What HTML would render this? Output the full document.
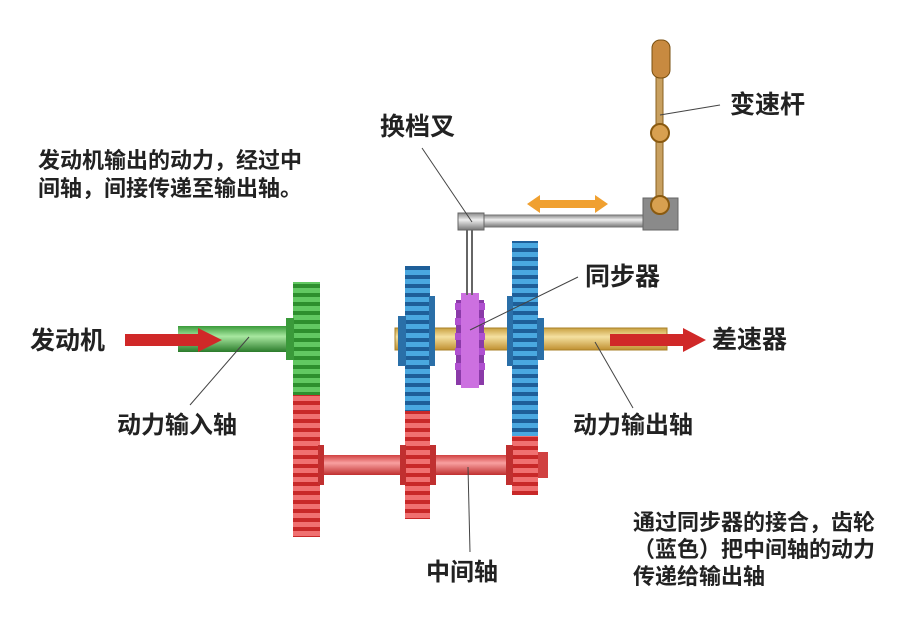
<!DOCTYPE html>
<html><head><meta charset="utf-8"><style>
html,body{margin:0;padding:0;background:#fff;}
svg text{font-family:"Liberation Sans","Noto Sans CJK SC",sans-serif;fill:#222;}
</style></head><body>
<svg width="900" height="621" viewBox="0 0 900 621" xmlns="http://www.w3.org/2000/svg">
<defs>
<pattern id="pg" width="10" height="9" patternUnits="userSpaceOnUse"><rect width="10" height="9" fill="#2e8f2e"/><rect y="0" width="10" height="5" fill="#62c862"/></pattern>
<pattern id="pb" width="10" height="9" patternUnits="userSpaceOnUse"><rect width="10" height="9" fill="#1e5f99"/><rect y="0" width="10" height="5" fill="#4aa8e0"/></pattern>
<pattern id="pr" width="10" height="9" patternUnits="userSpaceOnUse"><rect width="10" height="9" fill="#c82828"/><rect y="0" width="10" height="5" fill="#f07070"/></pattern>
<linearGradient id="gy" x1="0" y1="0" x2="0" y2="1"><stop offset="0" stop-color="#c9a040"/><stop offset="0.4" stop-color="#f4e0a0"/><stop offset="1" stop-color="#c09030"/></linearGradient>
<linearGradient id="gg" x1="0" y1="0" x2="0" y2="1"><stop offset="0" stop-color="#3a9a3a"/><stop offset="0.4" stop-color="#a8e8a0"/><stop offset="1" stop-color="#2a7a2a"/></linearGradient>
<linearGradient id="gr" x1="0" y1="0" x2="0" y2="1"><stop offset="0" stop-color="#d04040"/><stop offset="0.4" stop-color="#f8a0a0"/><stop offset="1" stop-color="#c03030"/></linearGradient>
<linearGradient id="gs" x1="0" y1="0" x2="0" y2="1"><stop offset="0" stop-color="#888"/><stop offset="0.4" stop-color="#eee"/><stop offset="1" stop-color="#777"/></linearGradient>
</defs>
<text x="38" y="168" font-size="22" font-weight="bold">发动机输出的动力，经过中</text>
<text x="38" y="196" font-size="22" font-weight="bold">间轴，间接传递至输出轴。</text>
<text x="30" y="349" font-size="25" font-weight="bold">发动机</text>
<text x="117" y="433" font-size="24" font-weight="bold">动力输入轴</text>
<text x="426" y="580" font-size="24" font-weight="bold">中间轴</text>
<text x="573" y="433" font-size="24" font-weight="bold">动力输出轴</text>
<text x="712" y="348" font-size="25" font-weight="bold">差速器</text>
<text x="585" y="285" font-size="25" font-weight="bold">同步器</text>
<text x="380" y="135" font-size="25" font-weight="bold">换档叉</text>
<text x="730" y="113" font-size="25" font-weight="bold">变速杆</text>
<text x="633" y="530" font-size="22" font-weight="bold">通过同步器的接合，齿轮</text>
<text x="633" y="557" font-size="22" font-weight="bold">（蓝色）把中间轴的动力</text>
<text x="633" y="584" font-size="22" font-weight="bold">传递给输出轴</text>
<rect x="178" y="326" width="116" height="26" fill="url(#gg)"/>
<rect x="395" y="328" width="272" height="22" fill="url(#gy)" stroke="#a88028" stroke-width="1"/>
<rect x="318" y="455" width="230" height="20" fill="url(#gr)"/>
<rect x="293" y="282" width="27" height="113" fill="url(#pg)"/>
<rect x="293" y="395" width="27" height="142" fill="url(#pr)"/>
<rect x="286" y="318" width="8" height="42" fill="#3a9a3a"/>
<rect x="405" y="266" width="25" height="145" fill="url(#pb)"/>
<rect x="405" y="411" width="25" height="108" fill="url(#pr)"/>
<rect x="398" y="316" width="8" height="50" fill="#2a6fa8"/>
<rect x="429" y="296" width="6" height="70" fill="#2a6fa8"/>
<rect x="512" y="241" width="26" height="195" fill="url(#pb)"/>
<rect x="512" y="436" width="26" height="59" fill="url(#pr)"/>
<rect x="507" y="296" width="6" height="70" fill="#2a6fa8"/>
<rect x="537" y="318" width="7" height="42" fill="#2a6fa8"/>
<rect x="318" y="445" width="6" height="40" fill="#c03030"/>
<rect x="400" y="445" width="6" height="40" fill="#c03030"/>
<rect x="430" y="445" width="6" height="40" fill="#c03030"/>
<rect x="506" y="445" width="7" height="40" fill="#c03030"/>
<rect x="538" y="452" width="10" height="26" fill="#d04040"/>
<rect x="456" y="300" width="28" height="85" fill="#8a3aa8"/>
<rect x="461" y="293" width="18" height="95" fill="#cc70e0"/>
<g fill="#b050d0"><rect x="455" y="303" width="6" height="7"/><rect x="455" y="318" width="6" height="7"/><rect x="455" y="333" width="6" height="7"/><rect x="455" y="348" width="6" height="7"/><rect x="455" y="363" width="6" height="7"/><rect x="479" y="303" width="6" height="7"/><rect x="479" y="318" width="6" height="7"/><rect x="479" y="333" width="6" height="7"/><rect x="479" y="348" width="6" height="7"/><rect x="479" y="363" width="6" height="7"/></g>
<rect x="466" y="228" width="2" height="67" fill="#666"/><rect x="471" y="228" width="2" height="67" fill="#666"/>
<rect x="482" y="215" width="162" height="12" fill="url(#gs)" stroke="#777" stroke-width="1"/>
<rect x="458" y="213" width="26" height="17" fill="url(#gs)" stroke="#666" stroke-width="1"/>
<rect x="643" y="198" width="35" height="32" fill="#8a8a8a" stroke="#666"/>
<rect x="656" y="70" width="7" height="135" fill="#c8a060" stroke="#8a6020" stroke-width="1"/>
<rect x="652" y="40" width="18" height="38" rx="8" fill="#c88a40" stroke="#7a5010"/>
<circle cx="660" cy="133" r="9" fill="#d8a050" stroke="#8a5a10" stroke-width="2"/>
<circle cx="660" cy="205" r="9" fill="#d8a050" stroke="#8a5a10" stroke-width="2"/>
<polygon points="527,204 540,195 540,200 595,200 595,195 608,204 595,213 595,208 540,208 540,213" fill="#f0a030"/>
<rect x="125" y="334" width="75" height="12" fill="#d02828"/>
<polygon points="198,328 222,340 198,352" fill="#d02828"/>
<rect x="610" y="334" width="75" height="12" fill="#d02828"/>
<polygon points="683,328 706,340 683,352" fill="#d02828"/>
<g stroke="#444" stroke-width="1" fill="none">
<line x1="249" y1="337" x2="190" y2="405"/>
<line x1="595" y1="342" x2="633" y2="408"/>
<line x1="470" y1="330" x2="578" y2="277"/>
<line x1="422" y1="148" x2="472" y2="222"/>
<line x1="660" y1="115" x2="720" y2="105"/>
<line x1="468" y1="467" x2="470" y2="552"/>
</g>
</svg>
</body></html>
